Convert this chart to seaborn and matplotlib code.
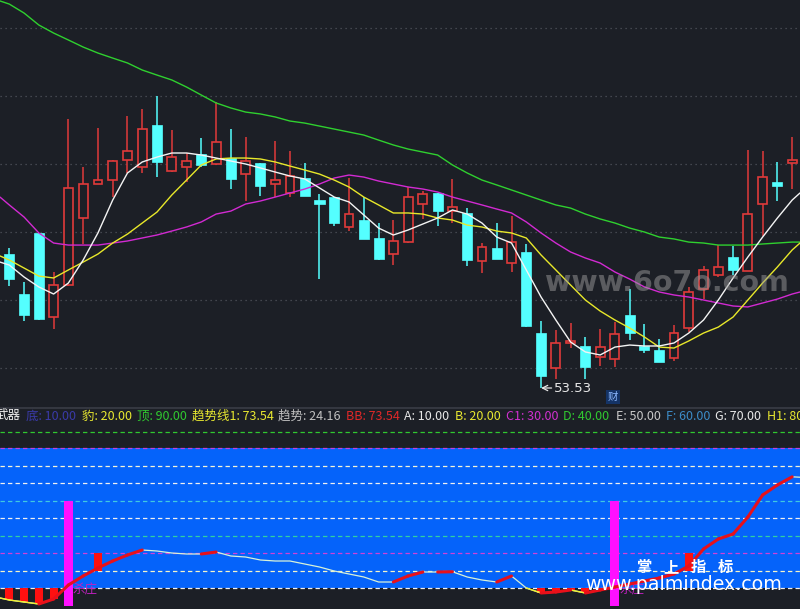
import numpy as np
import pandas as pd
import matplotlib
matplotlib.use("Agg")
import matplotlib.pyplot as plt
import seaborn as sns

# ---------------- data ----------------
opens = [63.38, 60.44, 64.93, 58.75, 61.10, 66.03, 68.53, 68.82, 70.29, 69.78,
         72.87, 69.49, 69.78, 70.74, 70.00, 70.44, 69.26, 70.07, 68.53, 67.87,
         68.97, 67.35, 67.57, 65.37, 65.88, 64.56, 63.38, 64.26, 67.06, 67.87,
         66.54, 66.40, 62.87, 63.82, 62.72, 63.53, 57.57, 55.00, 56.84, 56.62,
         55.81, 55.66, 58.90, 56.62, 56.32, 55.74, 57.94, 60.81, 61.84, 63.16,
         62.13, 67.06, 68.68, 70.07]
closes = [61.54, 58.90, 58.60, 61.10, 68.24, 68.53, 68.82, 70.22, 70.96, 72.57,
          70.15, 70.51, 70.22, 69.93, 71.62, 68.90, 70.22, 68.38, 68.82, 69.12,
          67.65, 67.06, 65.66, 66.32, 64.49, 63.01, 64.34, 67.57, 67.79, 66.54,
          66.84, 62.94, 63.90, 63.01, 64.26, 58.09, 54.41, 56.84, 56.99, 55.07,
          56.54, 57.50, 57.57, 56.32, 55.44, 57.57, 60.59, 62.21, 62.43, 62.21,
          66.32, 69.04, 68.38, 70.29]
highs = [63.82, 61.32, 64.95, 62.06, 73.31, 69.78, 72.65, 70.30, 73.53, 74.04,
         75.00, 72.50, 70.81, 71.91, 74.56, 72.57, 71.99, 70.10, 71.69, 70.96,
         70.07, 67.79, 67.60, 68.97, 67.57, 65.66, 65.88, 68.31, 68.01, 67.90,
         68.90, 66.76, 64.19, 65.66, 66.18, 64.12, 58.46, 57.79, 58.31, 57.28,
         57.87, 58.38, 60.81, 58.24, 57.13, 58.16, 60.96, 62.50, 64.04, 63.97,
         71.03, 70.96, 70.15, 71.99]
lows = [61.03, 58.46, 58.53, 57.87, 61.05, 64.12, 68.50, 67.57, 69.34, 69.34,
        69.04, 69.41, 68.68, 69.78, 69.95, 68.16, 67.28, 67.65, 67.57, 67.57,
        67.65, 61.54, 65.44, 65.07, 64.49, 62.94, 62.57, 64.19, 65.96, 65.44,
        65.66, 62.50, 61.99, 63.01, 62.06, 58.01, 53.53, 54.19, 56.47, 54.19,
        55.15, 55.07, 57.06, 56.10, 55.44, 55.51, 57.65, 60.07, 61.69, 61.84,
        62.13, 64.71, 67.28, 68.16]

# moving averages: first and last value are the line ends at the chart edges
ma_white = [62.79, 62.57, 61.69, 60.96, 60.44, 61.25, 62.94, 64.93, 67.35, 69.34, 70.15,
            70.51, 70.81, 70.81, 70.66, 70.44, 70.22, 70.00, 69.71, 69.41, 69.12,
            68.90, 68.24, 67.57, 67.21, 66.25, 65.29, 64.78, 65.15, 65.59, 66.03,
            66.62, 66.32, 65.66, 64.63, 64.19, 62.21, 60.22, 58.53, 56.91, 56.18,
            55.96, 56.54, 56.69, 56.62, 56.62, 56.84, 57.57, 58.53, 60.00, 61.62,
            63.16, 64.63, 66.03, 67.35, 67.87]
ma_yellow = [63.24, 62.94, 62.35, 61.76, 61.62, 62.21, 62.79, 63.38, 64.19, 64.85, 65.66,
             66.47, 67.72, 68.82, 69.93, 70.37, 70.44, 70.44, 70.37, 70.15, 69.85,
             69.56, 69.26, 68.82, 68.31, 67.57, 66.99, 66.40, 66.40, 66.32, 66.03,
             65.88, 65.51, 65.37, 65.07, 64.93, 64.56, 63.31, 62.21, 61.10, 60.00,
             59.19, 58.53, 57.94, 57.28, 56.54, 56.47, 56.99, 57.57, 58.01, 58.75,
             60.00, 61.25, 62.43, 63.68, 64.19]
ma_magenta = [67.57, 66.99, 66.10, 64.93, 64.19, 64.04, 64.04, 64.04, 64.19, 64.34, 64.56,
              64.78, 65.07, 65.37, 65.74, 66.32, 66.54, 67.06, 67.28, 67.57, 67.87,
              68.16, 68.53, 68.97, 69.19, 69.04, 68.75, 68.53, 68.31, 68.16, 67.94,
              67.57, 67.28, 66.99, 66.69, 66.40, 65.74, 64.93, 64.19, 63.53, 63.09,
              62.72, 62.06, 61.54, 60.96, 60.59, 60.37, 60.22, 60.00, 59.78, 59.56,
              59.49, 59.78, 60.07, 60.44, 60.59]
ma_green = [81.99, 81.76, 81.10, 80.22, 79.63, 79.12, 78.60, 78.16, 77.79, 77.43, 76.91,
            76.54, 76.18, 75.66, 75.07, 74.49, 74.12, 73.82, 73.68, 73.46, 73.16,
            73.01, 72.79, 72.57, 72.35, 72.13, 71.76, 71.40, 71.10, 70.88, 70.66,
            69.93, 69.34, 68.82, 68.46, 68.09, 67.72, 67.35, 66.99, 66.76, 66.32,
            65.96, 65.66, 65.29, 65.00, 64.63, 64.49, 64.26, 64.19, 64.04, 64.04,
            64.04, 64.12, 64.19, 64.26, 64.26]

trend = [4.29, 3.14, 2.00, 0.86, 3.71, 11.71, 16.86, 21.43, 25.43, 28.86, 31.71,
         31.14, 30.00, 29.43, 29.43, 30.57, 28.29, 27.71, 26.00, 25.43, 25.43,
         23.71, 22.00, 19.71, 18.00, 16.29, 13.43, 13.43, 16.86, 19.14, 19.14,
         19.29, 16.29, 14.57, 13.43, 16.86, 10.00, 7.14, 7.71, 8.86, 7.14,
         8.86, 10.57, 12.29, 14.00, 15.71, 18.00, 22.57, 32.29, 38.00, 40.86,
         50.57, 63.14, 68.86, 73.54, 73.30]

magenta_signal_idx = [4, 41]
red_signal_idx = [6, 46]
signal_text = "杀庄"

level_values = [10, 20, 30, 40, 50, 60, 70, 80, 90]
level_colors = ["#f0f0f0", "#f4f4c8", "#d040d8", "#30d0a0", "#f0f0f0",
                "#40c8e0", "#f0f0f0", "#f4f4d8", "#c040e0"]

legend_items = [("武器", "#f0f0f0"), ("底: 10.00", "#3a3aa8"), ("豹: 20.00", "#e8e830"),
                ("顶: 90.00", "#30c830"), ("趋势线1: 73.54", "#e8e830"),
                ("趋势: 24.16", "#c0c0c0"), ("BB: 73.54", "#e02828"),
                ("A: 10.00", "#e8e8e8"), ("B: 20.00", "#e8e830"),
                ("C1: 30.00", "#d030d0"), ("D: 40.00", "#30c830"),
                ("E: 50.00", "#c8c8c8"), ("F: 60.00", "#3c8cc8"),
                ("G: 70.00", "#e8e8e8"), ("H1: 80.00", "#e8e830")]
legend_x = [-4, 26, 82, 137, 192, 278, 346, 404, 455, 506, 563, 616, 666, 715, 767]

# ---------------- style ----------------
BG = "#1c1f26"
UP = "#e03a3a"
DOWN = "#54ffff"
sns.set_theme(style="dark", rc={"axes.facecolor": BG, "figure.facecolor": BG,
                                "patch.edgecolor": "none"})
plt.rcParams["font.family"] = ["Noto Sans CJK SC", "DejaVu Sans"]

W, H = 800, 609
fig = plt.figure(figsize=(W / 100, H / 100), dpi=100, facecolor=BG)

def fy(py):
    return 1 - py / H

ax1 = fig.add_axes([0, fy(408), 1, 408 / H])
ax2 = fig.add_axes([0, 0, 1, 201 / H])
for ax in (ax1, ax2):
    ax.set_facecolor(BG)
    for s in ax.spines.values():
        s.set_visible(False)
    ax.grid(False)

n = len(opens)
idx = np.arange(n)
xlim = (-0.63, 53.53)
xline = np.concatenate([[xlim[0]], idx, [xlim[1]]])

# ---------------- main panel ----------------
ax1.set_xlim(*xlim)
ax1.set_ylim(52.06, 82.06)
for g in [55, 60, 65, 70, 75, 80]:
    ax1.axhline(g, color="#50535c", lw=0.9, ls=(0, (1, 3)), zorder=0)

o = np.array(opens); c = np.array(closes); h = np.array(highs); l = np.array(lows)
up = c >= o
bw = 0.68
btm = np.minimum(o, c)
hgt = np.maximum(np.abs(c - o), 0.18)
ax1.vlines(idx[~up], l[~up], h[~up], color=DOWN, lw=1.1, zorder=2)
ax1.bar(idx[~up], hgt[~up], bottom=btm[~up], width=bw, color=DOWN,
        edgecolor=DOWN, lw=0.5, zorder=3)
ax1.vlines(idx[up], np.maximum(o, c)[up], h[up], color=UP, lw=1.1, zorder=2)
ax1.vlines(idx[up], l[up], btm[up], color=UP, lw=1.1, zorder=2)
ax1.bar(idx[up], hgt[up], bottom=btm[up], width=bw - 0.08, facecolor=BG,
        edgecolor=UP, lw=1.2, zorder=3)

ma_df = pd.DataFrame({"i": xline, "w": ma_white, "y": ma_yellow,
                      "m": ma_magenta, "g": ma_green})
for col, colr in [("g", "#2fd02f"), ("m", "#d22ad2"), ("y", "#e8e82a"), ("w", "#f4f4f4")]:
    sns.lineplot(data=ma_df, x="i", y=col, ax=ax1, color=colr, lw=1.0, zorder=4)
ax1.set_xlabel(""); ax1.set_ylabel("")
ax1.set_xticks([]); ax1.set_yticks([])

imin = int(np.argmin(l))
ax1.annotate(f"{l[imin]:.2f}", xy=(imin, l[imin]), xytext=(imin + 0.9, l[imin]),
             color="#e8e8e8", fontsize=9.5, va="center", ha="left",
             family=["DejaVu Sans"],
             arrowprops=dict(arrowstyle="->", color="#e8e8e8", lw=0.9,
                             shrinkA=0, shrinkB=0), zorder=6)

fig.text(545 / W, fy(283), "www.6o7o.com", color="#9a9a9a", alpha=0.5,
         fontsize=20.5, fontweight="bold", ha="left", va="center",
         family=["DejaVu Sans"], zorder=10)

fig.text(613 / W, fy(397), "财", color="#8cb8ff", fontsize=7.5, ha="center",
         va="center", bbox=dict(boxstyle="square,pad=0.15", fc="#143366", ec="none"))

fig.add_artist(plt.Line2D([0, 1], [fy(408), fy(408)], color="#3a3d46", lw=1.2))

# ---------------- sub panel ----------------
ax2.set_xlim(*xlim)
ax2.set_ylim(-2.0, 112.86)
ax2.axhspan(10, 90, color="#0563fa", lw=0, zorder=0)
for v, colr in zip(level_values, level_colors):
    ax2.axhline(v, color=colr, lw=0.9, ls=(0, (3.5, 2.5)), zorder=1)
ax2.axhline(99.1, color="#30c830", lw=0.9, ls=(0, (3.5, 2.5)), zorder=1)

t = np.array(trend)
tc = t[1:-1]
below = tc < 10
ax2.bar(idx[below], tc[below] - 10, bottom=10, width=0.55, color="#ff1010",
        lw=0, zorder=2)
ax2.bar(magenta_signal_idx, [60] * len(magenta_signal_idx), bottom=0, width=0.62,
        color="#ff10ff", lw=0, zorder=2)
for k in magenta_signal_idx:
    ax2.text(k + 0.3, 9.0, signal_text, color="#c020c0", fontsize=9,
             ha="left", va="center", zorder=1.5)
ax2.bar(red_signal_idx, [10] * len(red_signal_idx), bottom=20, width=0.55,
        color="#ff1010", lw=0, zorder=3)

tr_df = pd.DataFrame({"i": xline, "v": trend})
sns.lineplot(data=tr_df, x="i", y="v", ax=ax2, color="#d8f2d8", lw=0.9, zorder=4)
for k in range(1, len(t)):
    if t[k] <= 10.5 and t[k - 1] <= 10.5:
        ax2.plot([xline[k - 1], xline[k]], [t[k - 1], t[k]], color="#f0f030",
                 lw=1.0, zorder=4.5)
for k in range(2, len(t) - 1):
    if t[k] > t[k - 1]:
        ax2.plot([xline[k - 1], xline[k]], [t[k - 1], t[k]], color="#e8101a",
                 lw=2.2, solid_capstyle="round", zorder=5)
ax2.set_xlabel(""); ax2.set_ylabel("")
ax2.set_xticks([]); ax2.set_yticks([])

for (txt, colr), px in zip(legend_items, legend_x):
    fig.text(px / W, fy(416), txt, color=colr, fontsize=9, ha="left", va="center")

for ch, px in zip(["掌", "上", "指", "标"], [643.5, 671, 698.5, 725.5]):
    fig.text(px / W, fy(567), ch, color="white", fontsize=11, fontweight="bold",
             ha="center", va="center")
fig.text(585 / W, fy(584), "www.palmindex.com", color="white", fontsize=13.7,
         ha="left", va="center", family=["DejaVu Sans"])

fig.savefig("out.png", dpi=100, facecolor=BG)
